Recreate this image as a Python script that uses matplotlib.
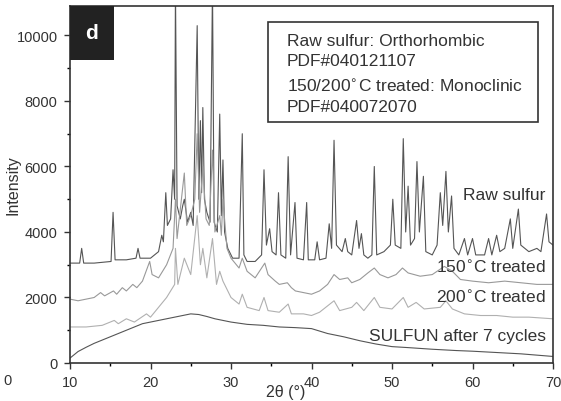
import matplotlib.pyplot as plt
from matplotlib.ticker import MultipleLocator
from matplotlib.patches import Rectangle

plt.rcParams['font.family'] = ['Liberation Sans', 'DejaVu Sans']

# XRD patterns, 2theta (deg) vs intensity (a.u.), peak tops and baselines
raw_2theta = [10.0, 11.2, 11.45, 11.7, 13.0, 15.1, 15.35, 15.6, 17.0, 18.2, 18.45, 18.7,
              20.0, 21.0, 21.4, 21.6, 21.9, 22.1, 22.5, 22.8, 23.0, 23.1, 23.3, 23.7,
              24.0, 24.2, 24.6, 25.0, 25.3, 25.8, 26.0, 26.2, 26.35, 26.5, 26.7, 27.0,
              27.4, 27.7, 27.9, 28.3, 28.6, 28.8, 29.0, 29.2, 29.6, 30.2, 31.0, 31.4,
              31.6, 32.0, 33.0, 33.8, 34.1, 34.4, 34.8, 35.1, 35.6, 35.9, 36.2, 36.8,
              37.1, 37.4, 37.95, 38.2, 39.0, 39.4, 39.6, 40.4, 40.7, 41.0, 41.8, 42.2,
              42.5, 42.8, 43.1, 43.8, 44.2, 44.5, 45.0, 45.6, 45.9, 46.2, 46.5, 47.0,
              47.5, 47.8, 48.1, 49.0, 49.8, 50.1, 50.4, 51.1, 51.4, 51.7, 52.0, 52.3,
              52.8, 53.1, 53.4, 53.9, 54.2, 55.0, 55.6, 56.0, 56.3, 56.7, 57.0, 57.4,
              57.7, 58.3, 59.0, 59.4, 60.0, 60.4, 61.5, 62.0, 62.4, 63.0, 63.4, 64.0,
              64.7, 65.0, 65.7, 66.0, 67.0, 68.0, 68.5, 69.2, 69.5, 70.0]
raw_int = [3050, 3050, 3500, 3050, 3050, 3100, 4600, 3150, 3150, 3200, 3500, 3200,
           3200, 3400, 3900, 3700, 5200, 4200, 4400, 5900, 5000, 11500, 4800, 4400,
           4800, 5000, 4300, 4600, 4200, 10300, 5000, 7400, 5200, 7800, 5000, 4600,
           4300, 11500, 4300, 4000, 7600, 4500, 6200, 4000, 3500, 3200, 3200, 7000,
           3300, 3100, 3100, 3300, 5900, 3600, 4100, 3400, 3300, 5200, 3300, 3200,
           6300, 3300, 4900, 3200, 3150, 4900, 3150, 3150, 3700, 3150, 3200, 4250,
           3500, 6800, 3600, 3400, 3800, 3400, 3300, 4350, 3500, 3950, 3300, 3200,
           3300, 6000, 3300, 3400, 3600, 5000, 3600, 3500, 6850, 4000, 5400, 3600,
           3800, 6150, 4000, 5700, 3400, 3300, 3600, 5200, 4200, 5850, 4000, 5100,
           3500, 3300, 3800, 3300, 3800, 3300, 3300, 3800, 3300, 3900, 3400, 3500,
           4400, 3500, 4700, 3600, 3400, 3500, 3400, 4550, 3700, 3600]

t150_2theta = [10.0, 11.0, 12.0, 13.0, 13.8, 14.3, 15.4, 15.8, 16.5, 17.0, 17.8, 18.3,
               19.0, 19.6, 19.9, 20.2, 21.0, 22.0, 22.8, 23.1, 23.3, 24.2, 24.5, 25.0,
               25.5, 25.8, 26.1, 26.5, 26.9, 27.3, 27.7, 28.0, 28.6, 28.8, 29.0, 29.5,
               30.0, 31.0, 31.4, 32.0, 33.0, 34.2, 34.6, 35.5, 36.0, 37.0, 37.5, 38.0,
               39.0, 40.0, 41.0, 42.0, 42.8, 43.5, 44.5, 45.0, 46.0, 47.0, 47.8, 48.5,
               49.5, 50.5, 51.3, 52.0, 53.5, 55.0, 56.5, 57.5, 58.5, 60.0, 62.0, 64.0,
               66.0, 68.0, 70.0]
t150_int = [1950, 1900, 1950, 2000, 2150, 2050, 2200, 2100, 2300, 2200, 2400, 2300,
            2500, 2900, 3100, 2700, 2600, 3000, 3500, 5000, 3800, 5800, 4200, 4500,
            5000, 7000, 4600, 6000, 4400, 4200, 6500, 4000, 4500, 3900, 5000, 3500,
            3200, 2900, 3200, 2800, 2600, 3050, 2700, 2500, 2400, 2450, 2300, 2200,
            2150, 2100, 2200, 2400, 2700, 2550, 2600, 2450, 2550, 2750, 2900, 2700,
            2600, 2700, 2900, 2750, 2650, 2700, 2950, 2800, 2550, 2500, 2450, 2500,
            2450, 2400, 2400]

t200_2theta = [10.0, 12.0, 14.0, 15.5, 16.0, 17.0, 18.0, 19.5, 20.0, 21.0, 22.0, 23.0,
               23.1, 23.4, 24.2, 25.0, 25.8, 26.2, 26.5, 27.0, 27.7, 28.2, 28.6, 29.0,
               30.0, 31.0, 31.4, 32.0, 33.5, 34.1, 34.6, 36.0, 37.1, 37.5, 39.0, 40.0,
               41.0, 42.8, 43.5, 45.0, 45.6, 46.5, 47.8, 48.5, 50.0, 51.4, 52.0, 53.0,
               54.0, 56.0, 56.7, 57.5, 59.0, 61.0, 63.0, 65.0, 67.0, 70.0]
t200_int = [1100, 1100, 1150, 1300, 1200, 1350, 1250, 1500, 1400, 1700, 2000, 2400,
            3500, 2400, 3200, 2700, 4500, 3000, 3500, 2600, 3800, 2400, 2800, 2500,
            2000, 1800, 2100, 1700, 1600, 2000, 1600, 1550, 1800, 1500, 1500, 1450,
            1550, 1900, 1600, 1700, 1850, 1600, 2000, 1700, 1650, 2000, 1700, 1850,
            1650, 1700, 1900, 1650, 1500, 1450, 1450, 1400, 1400, 1350]

cyc_2theta = [10, 11, 12, 13, 14, 15, 16, 17, 18, 19, 20, 21, 22, 23, 24, 25, 26, 27,
              28, 29, 30, 32, 34, 36, 38, 40, 42, 44, 46, 48, 50, 52, 55, 58, 60, 63,
              66, 70]
cyc_int = [150, 350, 480, 600, 700, 800, 900, 1000, 1100, 1200, 1250, 1300, 1350, 1400,
           1450, 1500, 1480, 1420, 1350, 1300, 1250, 1180, 1150, 1100, 1080, 1050, 900,
           800, 680, 580, 500, 470, 420, 380, 360, 320, 280, 200]

curve_labels = ["Raw sulfur", "150$^{\\circ}$C treated", "200$^{\\circ}$C treated",
                "SULFUN after 7 cycles"]
label_y = [5150, 2940, 2050, 830]

fig = plt.figure(figsize=(5.61, 4.02), dpi=100)
ax = fig.add_axes([70 / 561, 38 / 402, 483 / 561, 357 / 402])

ax.plot(raw_2theta, raw_int, color='#555555', lw=0.8)
ax.plot(t150_2theta, t150_int, color='#999999', lw=0.8)
ax.plot(t200_2theta, t200_int, color='#b0b0b0', lw=0.8)
ax.plot(cyc_2theta, cyc_int, color='#555555', lw=0.8)

for txt, yy in zip(curve_labels, label_y):
    ax.text(69.1, yy, txt, ha='right', va='center', fontsize=12.5, color='#333333')

ax.set_xlim(10, 70)
ax.set_ylim(0, 10900)
ax.xaxis.set_major_locator(MultipleLocator(10))
ax.xaxis.set_minor_locator(MultipleLocator(5))
ax.yaxis.set_major_locator(MultipleLocator(2000))
ax.yaxis.set_minor_locator(MultipleLocator(1000))
ax.tick_params(which='major', direction='out', length=4, width=1, labelsize=10.5,
               colors='#333333', pad=5)
ax.tick_params(which='minor', direction='out', length=2.5, width=1)
for sp in ax.spines.values():
    sp.set_linewidth(1.2)
    sp.set_color('#333333')

ax.set_xlabel("2θ (°)", fontsize=11.5, color='#333333')
ax.xaxis.set_label_coords(0.447, -0.058)
ax.set_ylabel("Intensity", fontsize=11.5, color='#333333')
ax.yaxis.set_label_coords(-0.102, 0.50)

# panel tag
ax.add_patch(Rectangle((0, 0.85), 0.091, 0.15, transform=ax.transAxes,
                       facecolor='#222222', edgecolor='none', zorder=5))
ax.text(0.045, 0.925, "d", transform=ax.transAxes, color='white', fontsize=15,
        fontweight='bold', ha='center', va='center', zorder=6)

# phase reference box
ax.add_patch(Rectangle((0.41, 0.675), 0.559, 0.28, transform=ax.transAxes,
                       facecolor='white', edgecolor='#333333', lw=1.2, zorder=5))
box_lines = ["Raw sulfur: Orthorhombic", "PDF#040121107",
             "150/200$^{\\circ}$C treated: Monoclinic", "PDF#040072070"]
for txt, ypx in zip(box_lines, [42, 62, 86, 107]):
    ax.text((287 - 70) / 483, (364 - ypx) / 357, txt, transform=ax.transAxes,
            fontsize=12.5, color='#333333', ha='left', va='center', zorder=6)

fig.text(8 / 561, 1 - 381 / 402, "0", fontsize=10.5, color='#333333',
         ha='center', va='center')

fig.savefig("out.png", dpi=100)
